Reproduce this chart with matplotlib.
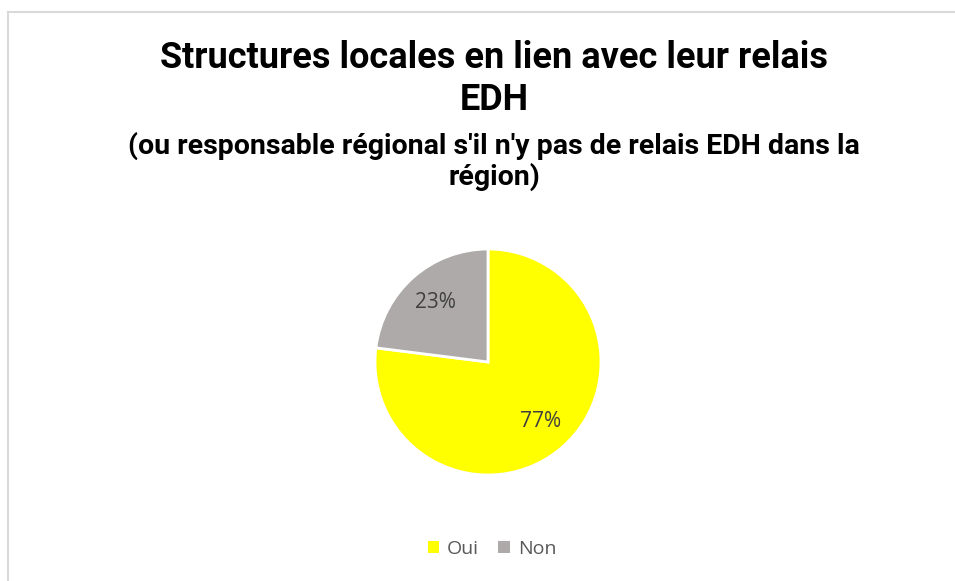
import matplotlib
matplotlib.use("Agg")
import matplotlib.pyplot as plt
from matplotlib.lines import Line2D

labels = ["Oui", "Non"]
values = [77, 23]
colors = ["#FFFF00", "#AEAAAA"]
title_main = "Structures locales en lien avec leur relais\nEDH"
title_sub = "(ou responsable régional s'il n'y pas de relais EDH dans la\nrégion)"

W, H = 955, 581
fig = plt.figure(figsize=(W / 100, H / 100), dpi=100)
fig.patch.set_facecolor("white")

# outer frame (top and left visible)
fig.add_artist(Line2D([7.5 / W, 7.5 / W], [0, 1 - 12 / H], transform=fig.transFigure, color="#D9D9D9", lw=1.5))
fig.add_artist(Line2D([7.5 / W, 1], [1 - 12 / H, 1 - 12 / H], transform=fig.transFigure, color="#D9D9D9", lw=1.5))

fig.text(494 / W, 1 - 79 / H, title_main, ha="center", va="center", fontsize=26, fontweight="bold",
         family=["Roboto", "DejaVu Sans"], linespacing=1.2, color="black")
fig.text(494 / W, 1 - 161.5 / H, title_sub, ha="center", va="center", fontsize=20.5, fontweight="bold",
         family=["Roboto", "DejaVu Sans"], linespacing=1.12, color="black")

r = 113
cx, cy = 488, 362
ax = fig.add_axes([(cx - r) / W, 1 - (cy + r) / H, 2 * r / W, 2 * r / H])
wedges, texts, autotexts = ax.pie(values, colors=colors, startangle=90, counterclock=False,
                                  autopct="%1.0f%%", pctdistance=0.7,
                                  wedgeprops=dict(edgecolor="white", linewidth=2),
                                  textprops=dict(color="#404040", fontsize=15, family=["Open Sans", "DejaVu Sans"]))
ax.set_xlim(-1, 1)
ax.set_ylim(-1, 1)
ax.set_aspect("equal")
ax.axis("off")

leg = fig.legend(wedges, labels, loc="center", bbox_to_anchor=(492 / W, 1 - 549 / H), ncol=2, frameon=False,
                 prop=dict(family=["Open Sans", "DejaVu Sans"], size=14), handlelength=0.6, handleheight=0.6,
                 handletextpad=0.4, columnspacing=1.0, labelcolor="#595959")
for h in leg.legend_handles:
    h.set_edgecolor("none")

fig.savefig("out.png", dpi=100, facecolor="white")
